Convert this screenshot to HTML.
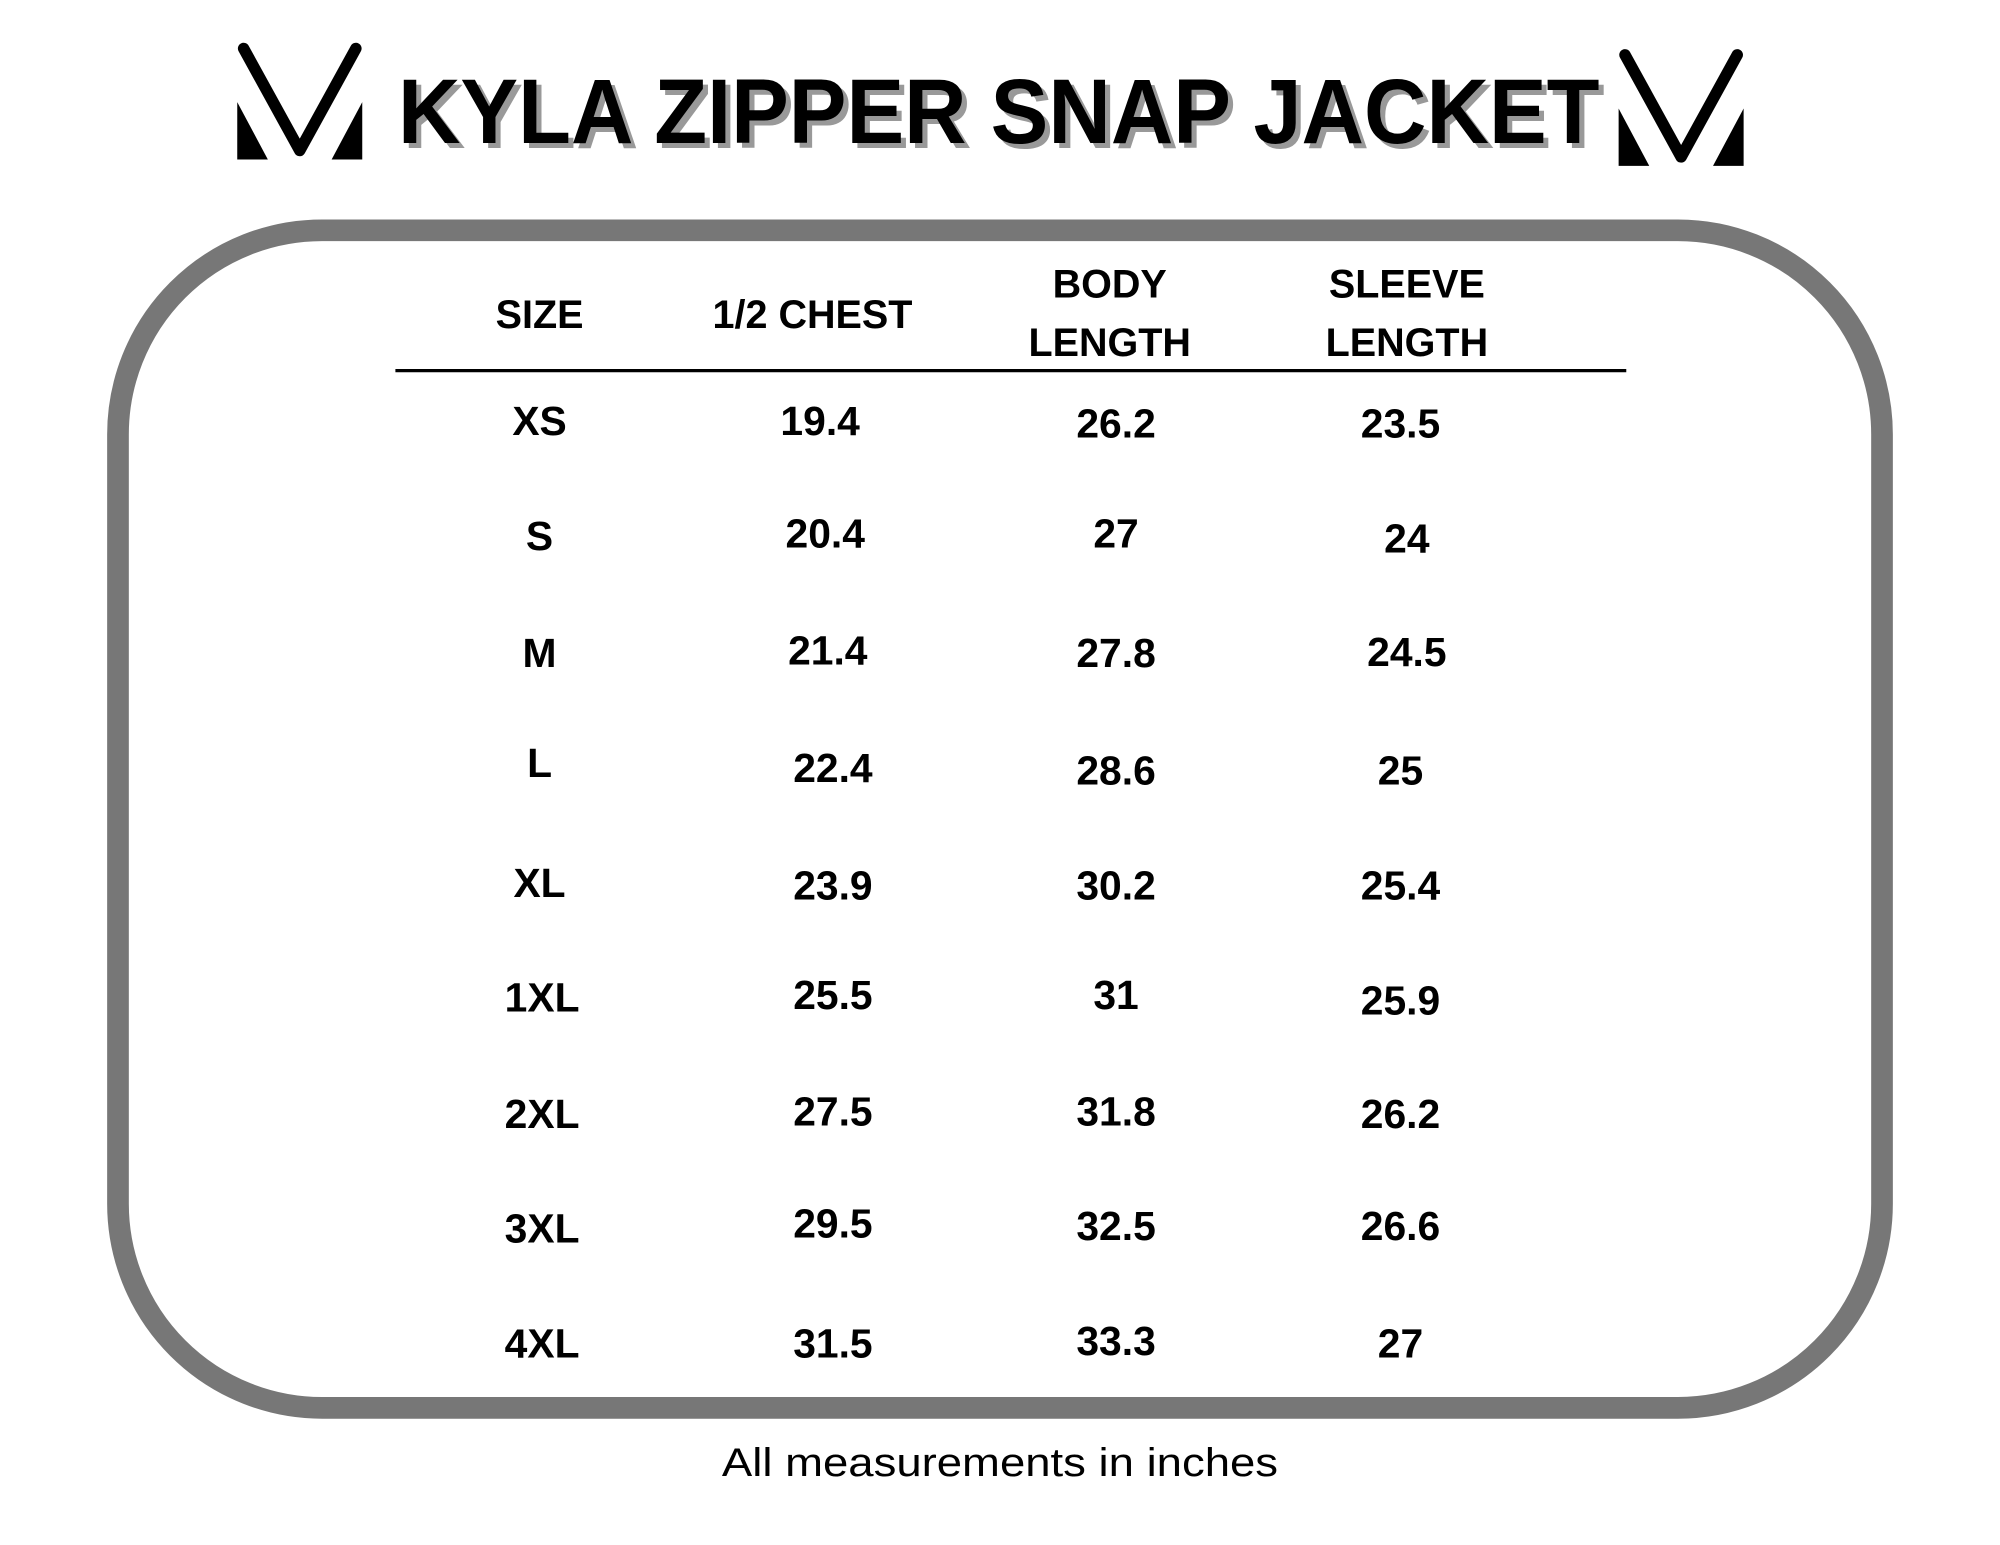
<!DOCTYPE html>
<html><head><style>html,body{margin:0;padding:0;background:#fff}svg{display:block}</style></head><body>
<svg width="2000" height="1545" viewBox="0 0 1568 1211" preserveAspectRatio="none" xmlns="http://www.w3.org/2000/svg" font-family="Liberation Sans, sans-serif">
<rect width="1568" height="1211" fill="#fff"/>
<g id="logo" fill="#000">
<path d="M191 38 L235 118 L279 38" fill="none" stroke="#000" stroke-width="9" stroke-linecap="round" stroke-linejoin="round"/>
<path d="M186 80 L186 125 L210 125 Z"/>
<path d="M284 80 L284 125 L260 125 Z"/>
</g>
<use href="#logo" transform="translate(1083 5)"/>
<text x="316" y="116" font-size="72" font-weight="bold" fill="#999" textLength="942" lengthAdjust="spacingAndGlyphs">KYLA ZIPPER SNAP JACKET</text>
<text x="312" y="112" font-size="72" font-weight="bold" fill="#000" textLength="942" lengthAdjust="spacingAndGlyphs">KYLA ZIPPER SNAP JACKET</text>
<rect x="92.5" y="180.5" width="1383" height="923" rx="160" ry="160" fill="none" stroke="#777" stroke-width="17"/>
<g font-size="31" font-weight="bold" text-anchor="middle" fill="#000">
<text x="423" y="257">SIZE</text>
<text x="637" y="257">1/2 CHEST</text>
<text x="870" y="233">BODY</text><text x="870" y="279">LENGTH</text>
<text x="1103" y="233">SLEEVE</text><text x="1103" y="279">LENGTH</text>
</g>
<line x1="310" y1="290.5" x2="1275" y2="290.5" stroke="#000" stroke-width="2.5"/>
<g font-size="32" font-weight="bold" text-anchor="middle" fill="#000">
<text x="423" y="341">XS</text><text x="643" y="341">19.4</text><text x="875" y="343">26.2</text><text x="1098" y="343">23.5</text>
<text x="423" y="431">S</text><text x="647" y="429">20.4</text><text x="875" y="429">27</text><text x="1103" y="433">24</text>
<text x="423" y="523">M</text><text x="649" y="521">21.4</text><text x="875" y="523">27.8</text><text x="1103" y="522">24.5</text>
<text x="423" y="609">L</text><text x="653" y="613">22.4</text><text x="875" y="615">28.6</text><text x="1098" y="615">25</text>
<text x="423" y="703">XL</text><text x="653" y="705">23.9</text><text x="875" y="705">30.2</text><text x="1098" y="705">25.4</text>
<text x="425" y="793">1XL</text><text x="653" y="791">25.5</text><text x="875" y="791">31</text><text x="1098" y="795">25.9</text>
<text x="425" y="884">2XL</text><text x="653" y="882">27.5</text><text x="875" y="882">31.8</text><text x="1098" y="884">26.2</text>
<text x="425" y="974">3XL</text><text x="653" y="970">29.5</text><text x="875" y="972">32.5</text><text x="1098" y="972">26.6</text>
<text x="425" y="1064">4XL</text><text x="653" y="1064">31.5</text><text x="875" y="1062">33.3</text><text x="1098" y="1064">27</text>
</g>
<text x="566" y="1157" font-size="31" fill="#000" textLength="436" lengthAdjust="spacingAndGlyphs">All measurements in inches</text>
</svg>
</body></html>
